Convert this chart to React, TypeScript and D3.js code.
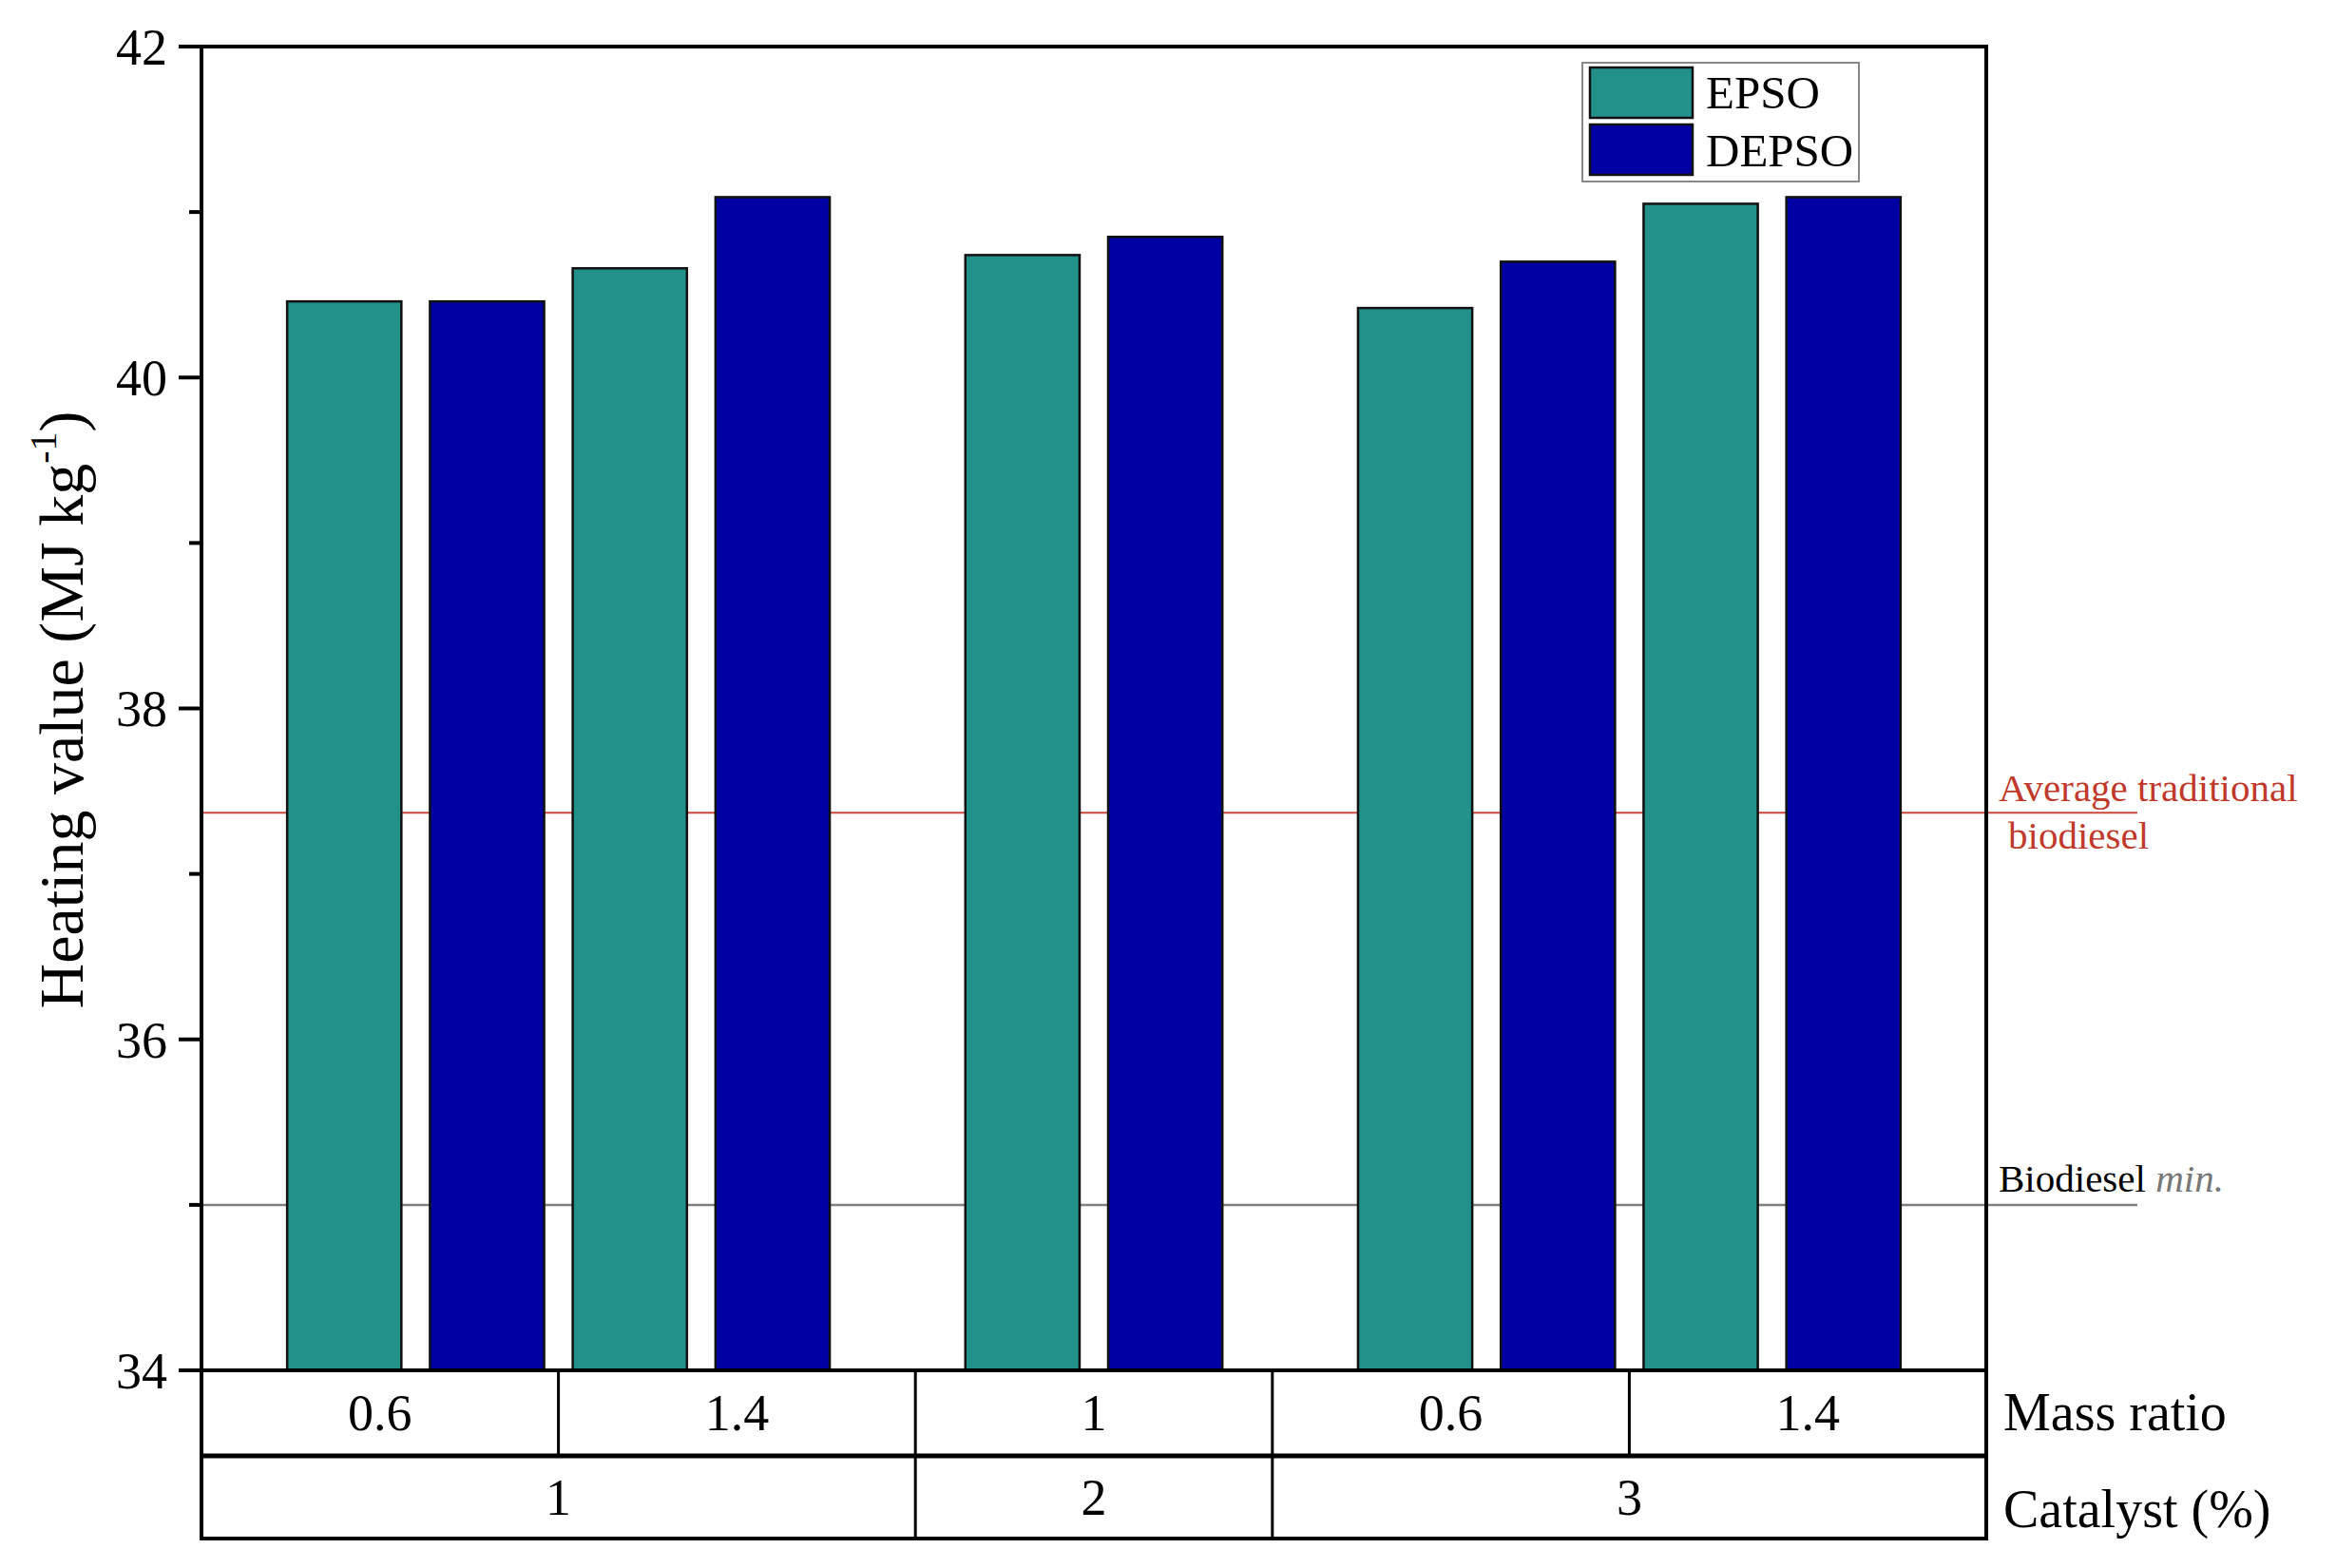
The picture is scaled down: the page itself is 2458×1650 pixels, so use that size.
import * as d3 from "d3";
import React from "react";

// values
const massRatios = ["0.6", "1.4", "1", "0.6", "1.4"];
const catalysts = ["1", "2", "3"];
const catalystSpans = [2, 1, 2];
const seriesNames = ["EPSO", "DEPSO"];
const epsoValues = [40.46, 40.66, 40.74, 40.42, 41.05];
const depsoValues = [40.46, 41.09, 40.85, 40.7, 41.09];
const majorTicks = [34, 36, 38, 40, 42];
const minorTicks = [35, 37, 39, 41];
const traditionalAvg = 37.37;
const biodieselMin = 35.0;

const colors = ["#22918a", "#0000a3"];
const font = "'Liberation Serif', 'Times New Roman', serif";

const width = 2458;
const height = 1650;
const margin = { left: 212, right: 368, top: 49, bottom: 208 };
const row1 = 1532;
const row2 = 1619;

const App: React.FC = () => {
  const plotRight = width - margin.right;
  const plotBottom = height - margin.bottom;

  const x = d3.scaleLinear().domain([0, massRatios.length]).range([margin.left, plotRight]);
  const y = d3.scaleLinear().domain([34, 42]).range([plotBottom, margin.top]);

  // catalyst group of each mass-ratio cell
  const starts = catalystSpans.map((_, i) => d3.sum(catalystSpans.slice(0, i)));
  const groupOf = massRatios.map((_, m) => starts.findIndex((s, g) => m >= s && m < s + catalystSpans[g]));

  const pitch = 0.4;
  const barW = 0.32;
  const bars = massRatios.flatMap((_, m) => {
    const g = groupOf[m];
    const n = catalystSpans[g] * 2;
    const center = starts[g] + catalystSpans[g] / 2;
    return [epsoValues[m], depsoValues[m]].map((v, k) => {
      const pos = 2 * (m - starts[g]) + k;
      const c = center + (pos - (n - 1) / 2) * pitch;
      return { key: `${m}-${k}`, x0: x(c - barW / 2), x1: x(c + barW / 2), v, k };
    });
  });

  const lineEnd = 2249;

  return (
    <svg
      width={width}
      height={height}
      style={{ position: "absolute", left: 0, top: 0, background: "#fff" }}
      fontFamily={font}
    >
      {/* reference lines */}
      <line x1={margin.left} x2={lineEnd} y1={y(traditionalAvg)} y2={y(traditionalAvg)} stroke="#d0463c" strokeWidth={2} />
      <line x1={margin.left} x2={lineEnd} y1={y(biodieselMin)} y2={y(biodieselMin)} stroke="#808080" strokeWidth={2.5} />

      {/* bars */}
      {bars.map((b) => (
        <rect
          key={b.key}
          x={b.x0}
          y={y(b.v)}
          width={b.x1 - b.x0}
          height={plotBottom - y(b.v)}
          fill={colors[b.k]}
          stroke="#111"
          strokeWidth={2.5}
        />
      ))}

      {/* frame */}
      <rect x={margin.left} y={margin.top} width={plotRight - margin.left} height={plotBottom - margin.top} fill="none" stroke="#000" strokeWidth={4} />

      {/* y ticks */}
      {majorTicks.map((t) => (
        <g key={t}>
          <line x1={margin.left - 24} x2={margin.left} y1={y(t)} y2={y(t)} stroke="#000" strokeWidth={4} />
          <text x={margin.left - 36} y={y(t)} dy="0.35em" textAnchor="end" fontSize={54}>
            {t}
          </text>
        </g>
      ))}
      {minorTicks.map((t) => (
        <line key={t} x1={margin.left - 13} x2={margin.left} y1={y(t)} y2={y(t)} stroke="#000" strokeWidth={4} />
      ))}

      {/* y title */}
      <text transform={`translate(87, 747) rotate(-90)`} textAnchor="middle" fontSize={66}>
        Heating value (MJ kg
        <tspan fontSize={40} dy={-28}>-1</tspan>
        <tspan dy={28}>)</tspan>
      </text>

      {/* table under the axis */}
      <line x1={margin.left} x2={margin.left} y1={plotBottom} y2={row2} stroke="#000" strokeWidth={4} />
      <line x1={plotRight} x2={plotRight} y1={plotBottom} y2={row2} stroke="#000" strokeWidth={4} />
      <line x1={margin.left} x2={plotRight} y1={row1} y2={row1} stroke="#000" strokeWidth={5} />
      <line x1={margin.left - 2} x2={plotRight + 2} y1={row2} y2={row2} stroke="#000" strokeWidth={4} />
      {massRatios.slice(1).map((_, i) => (
        <line key={i} x1={x(i + 1)} x2={x(i + 1)} y1={plotBottom} y2={row1} stroke="#000" strokeWidth={3} />
      ))}
      {starts.slice(1).map((s) => (
        <line key={s} x1={x(s)} x2={x(s)} y1={row1} y2={row2} stroke="#000" strokeWidth={3} />
      ))}
      {massRatios.map((m, i) => (
        <text key={i} x={x(i + 0.5)} y={1505} textAnchor="middle" fontSize={54}>
          {m}
        </text>
      ))}
      {catalysts.map((c, g) => (
        <text key={g} x={x(starts[g] + catalystSpans[g] / 2)} y={1594} textAnchor="middle" fontSize={54}>
          {c}
        </text>
      ))}
      <text x={2108} y={1505} fontSize={56}>Mass ratio</text>
      <text x={2108} y={1607} fontSize={56}>Catalyst (%)</text>

      {/* reference line labels */}
      <text x={2103} y={843} fontSize={41} fill="#c0392b">Average traditional</text>
      <text x={2113} y={893} fontSize={41} fill="#c0392b">biodiesel</text>
      <text x={2103} y={1254} fontSize={41} fill="#000">
        Biodiesel <tspan fontStyle="italic" fill="#777">min.</tspan>
      </text>

      {/* legend */}
      <rect x={1665} y={66} width={291} height={125} fill="#fff" stroke="#888" strokeWidth={2} />
      {seriesNames.map((s, i) => (
        <g key={s}>
          <rect x={1673} y={71 + i * 60} width={108} height={53} fill={colors[i]} stroke="#111" strokeWidth={2.5} />
          <text x={1795} y={114 + i * 61} fontSize={49}>
            {s}
          </text>
        </g>
      ))}
    </svg>
  );
};

export default App;
